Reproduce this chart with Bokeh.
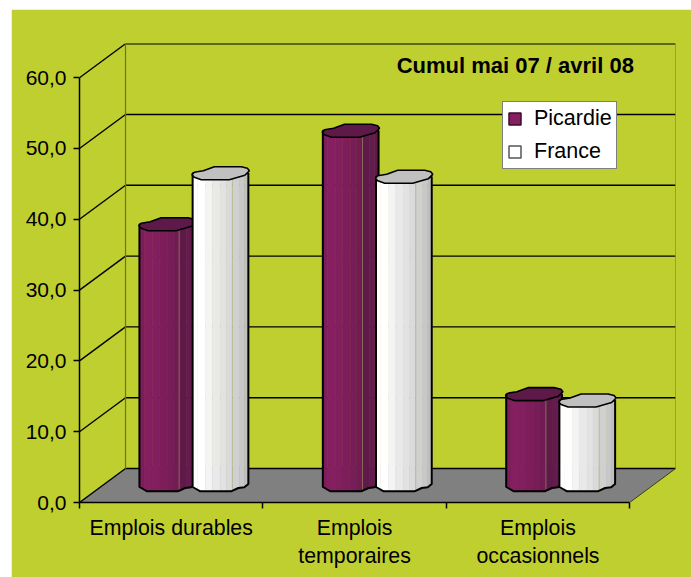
from bokeh.plotting import figure
from bokeh.models import Legend, LegendItem, Label, FixedTicker, Range1d
from bokeh.embed import file_html
from bokeh.resources import INLINE
import numpy as np

categories = ["Emplois durables", "Emplois\ntemporaires", "Emplois\noccasionnels"]
picardie = [36.9, 50.1, 12.9]
france = [44.1, 43.6, 12.0]
y_ticks = [0, 10, 20, 30, 40, 50, 60]
y_labels = ["0,0", "10,0", "20,0", "30,0", "40,0", "50,0", "60,0"]
title_text = "Cumul mai 07 / avril 08"

BG = "#bfcf30"
PX_X = 183.3   # pixels per category
PX_Y = 7.08    # pixels per value unit
DEPTH_X = 46 / PX_X
DEPTH_Y = 34 / PX_Y
FONT = "Liberation Sans"

p = figure(width=680, height=568, output_backend="svg", toolbar_location=None,
           x_range=Range1d(0, 3.25), y_range=Range1d(0, 64.83),
           min_border_left=68, min_border_right=16, min_border_top=34, min_border_bottom=75,
           background_fill_color=BG, border_fill_color=BG, outline_line_color=BG, outline_line_width=2)
p.margin = (9, 0, 0, 11)
p.grid.visible = False

# axes
ya = p.yaxis[0]
ya.ticker = FixedTicker(ticks=y_ticks)
ya.major_label_overrides = dict(zip(y_ticks, y_labels))
ya.bounds = (0, 60)
ya.axis_line_color = "#000000"
ya.axis_line_width = 1.5
ya.major_tick_line_color = "#000000"
ya.major_tick_line_width = 1.5
ya.major_tick_in = 0
ya.major_tick_out = 6
ya.minor_tick_line_color = None
ya.major_label_text_font = FONT
ya.major_label_text_font_size = "21px"
ya.major_label_text_color = "#000000"
ya.major_label_standoff = 7

xa = p.xaxis[0]
xa.ticker = FixedTicker(ticks=[0.5, 1.5, 2.5], minor_ticks=[0, 1, 2, 3])
xa.major_label_overrides = {0.5: categories[0], 1.5: categories[1], 2.5: categories[2]}
xa.bounds = (0, 3)
xa.axis_line_color = "#000000"
xa.axis_line_width = 1.5
xa.major_tick_line_color = None
xa.minor_tick_line_color = "#000000"
xa.minor_tick_line_width = 1.5
xa.minor_tick_in = 0
xa.minor_tick_out = 6
xa.major_label_text_font = FONT
xa.major_label_text_font_size = "21.3px"
xa.major_label_text_color = "#000000"
xa.major_label_standoff = 7
xa.major_label_orientation = "horizontal"

# floor
p.patch([0, 3, 3 + DEPTH_X, DEPTH_X], [0, 0, DEPTH_Y, DEPTH_Y],
        fill_color="#808080", line_color=None)

# walls
top = y_ticks[-1]
p.segment([DEPTH_X] * 7, [v + DEPTH_Y for v in y_ticks], [3 + DEPTH_X] * 7, [v + DEPTH_Y for v in y_ticks],
          line_color="#000000", line_width=1.4)
p.segment([0] * 7, y_ticks, [DEPTH_X] * 7, [v + DEPTH_Y for v in y_ticks],
          line_color="#000000", line_width=1.4)
p.segment([DEPTH_X, 3 + DEPTH_X], [DEPTH_Y, DEPTH_Y], [DEPTH_X, 3 + DEPTH_X], [top + DEPTH_Y, top + DEPTH_Y],
          line_color="#6c7420", line_width=1.2)
p.segment([3], [0], [3 + DEPTH_X], [DEPTH_Y], line_color="#3c4010", line_width=1)

# cylinder shape, pixels from the centre of an end face (dx, dy up)
TOP_SHAPE = [(-28.3, -1.5), (-26, 1.0), (-17, 2.5), (-6, 6.5), (21, 6.5), (27, 5), (29, 2.5),
             (24.5, -2), (9, -6.5), (-19, -6.5), (-26, -4)]
LOW_X = [-27.7, -25, -20, 10.7, 18, 24, 28]
LOW_Y = [-1.5, -3.0, -5.8, -5.8, -2.5, -1.8, 1.5]
EDGES = [-27.7, -23, -15, -8, 0, 6, 12, 19, 24, 28]
PIC_STRIPS = ["#7c1d5c", "#851f60", "#821f5e", "#7d1e5b", "#771d57", "#711c53", "#5f1a4a", "#641b4d", "#5e1a49"]
FRA_STRIPS = ["#ffffff", "#ffffff", "#f4f4f4", "#e9e9e9", "#e2e2e2", "#dadada", "#d0d0d0", "#c8c8c8", "#bfbfbf"]


def cylinder(cx, val, strips, top_color):
    floor_y = 17 / PX_Y  # centre of the base, half-way into the depth
    yt = val
    xs, ys = [], []
    for i, col in enumerate(strips):
        a, b = EDGES[i], EDGES[i + 1]
        ya0 = np.interp(a, LOW_X, LOW_Y)
        yb0 = np.interp(b, LOW_X, LOW_Y)
        xs.append([cx + a / PX_X, cx + b / PX_X, cx + b / PX_X, cx + a / PX_X])
        ys.append([floor_y + ya0 / PX_Y, floor_y + yb0 / PX_Y, yt + floor_y, yt + floor_y])
    p.patches(xs, ys, fill_color=strips, line_color=strips, line_width=0.5)
    # facet line
    p.segment([cx + 12 / PX_X], [floor_y - 4 / PX_Y], [cx + 12 / PX_X], [yt + floor_y - 4 / PX_Y],
              line_color="#a8a868", line_alpha=0.55, line_width=1)
    # silhouette
    sx = [cx + a / PX_X for a in LOW_X] + [cx + 28 / PX_X, cx - 27.7 / PX_X]
    sy = [floor_y + b / PX_Y for b in LOW_Y] + [yt + floor_y, yt + floor_y]
    p.patch(sx, sy, fill_color=None, line_color="#000000", line_width=2)
    # top face
    tx = [cx + a / PX_X for a, _ in TOP_SHAPE]
    ty = [yt + floor_y + b / PX_Y for _, b in TOP_SHAPE]
    p.patch(tx, ty, fill_color=top_color, line_color="#000000", line_width=1.6)


for i in range(3):
    cylinder(i + 0.478, picardie[i], PIC_STRIPS, "#5d1a49")
    cylinder(i + 0.768, france[i], FRA_STRIPS, "#c0c0c0")

# title
p.add_layout(Label(x=(396 - 79) / PX_X, y=(502 - 65) / PX_Y, text=title_text,
                   text_font=FONT, text_font_style="bold", text_font_size="22px",
                   text_color="#000000", text_baseline="middle", text_align="left"))

# legend
nan = float("nan")
r1 = p.quad(left=[nan], right=[nan], top=[nan], bottom=[nan], fill_color="#861f60", line_color="#3a0d2c", line_width=1.5)
r2 = p.quad(left=[nan], right=[nan], top=[nan], bottom=[nan], fill_color="#ffffff", line_color="#555555", line_width=1.5)
leg = Legend(items=[LegendItem(label="Picardie", renderers=[r1]),
                    LegendItem(label="France", renderers=[r2])],
             location=(423, 333), orientation="vertical", margin=0, padding=4, spacing=8,
             glyph_width=15, glyph_height=15, label_standoff=12,
             background_fill_color="#ffffff", background_fill_alpha=1,
             border_line_color="#000000", border_line_width=1,
             label_text_font=FONT, label_text_font_size="21.5px", label_text_color="#000000")
p.add_layout(leg)

open("out.html", "w").write(file_html(p, INLINE))
